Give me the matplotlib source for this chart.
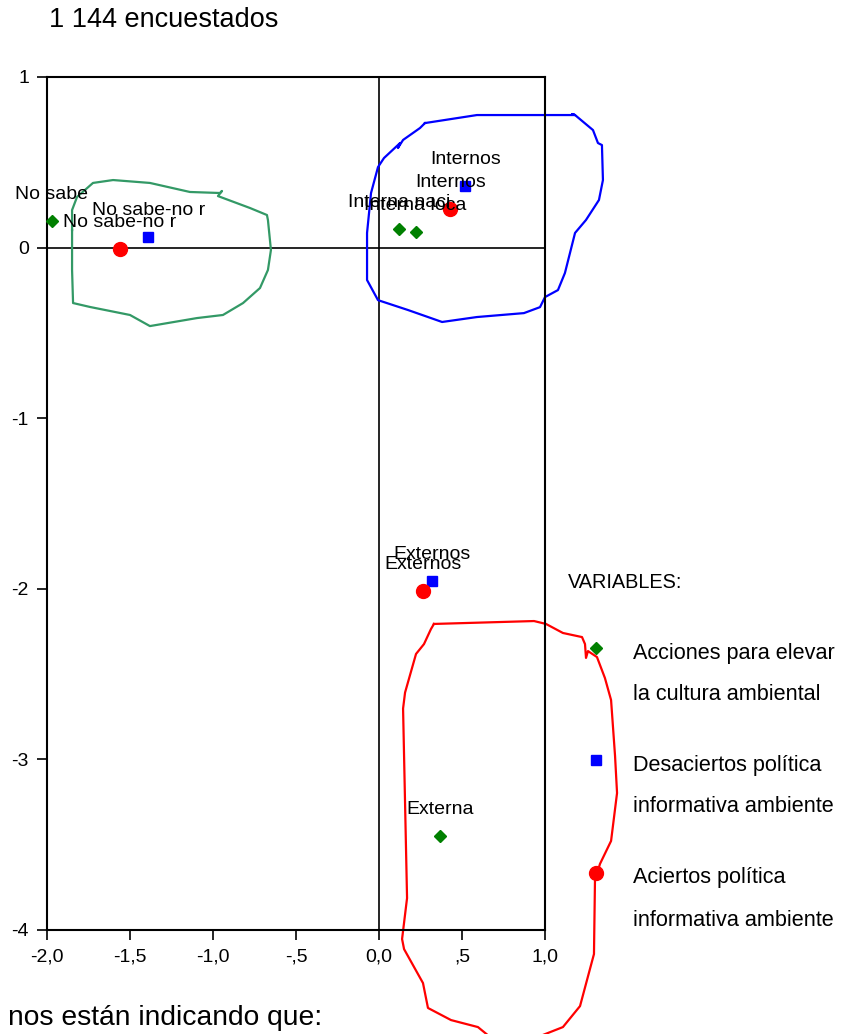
#! /usr/bin/env python3

# Correspondence map: three variables with hand drawn groups

import matplotlib
matplotlib.use("Agg")
import matplotlib.pyplot as plt

plt.rcParams['font.family'] = ['Liberation Sans', 'DejaVu Sans']
plt.rcParams['axes.unicode_minus'] = False

# Acciones para elevar la cultura ambiental (green diamonds)
acciones_labels = ["No sabe", "Interna naci", "Interna loca", "Externa"]
acciones_x = [-1.97, 0.12, 0.22, 0.37]
acciones_y = [0.155, 0.11, 0.09, -3.45]

# Desaciertos politica informativa ambiente (blue squares)
desaciertos_labels = ["No sabe-no r", "Internos", "Externos"]
desaciertos_x = [-1.39, 0.52, 0.32]
desaciertos_y = [0.06, 0.36, -1.955]

# Aciertos politica informativa ambiente (red circles)
aciertos_labels = ["No sabe-no r", "Internos", "Externos"]
aciertos_x = [-1.56, 0.43, 0.265]
aciertos_y = [-0.01, 0.225, -2.015]

x_ticks = [-2.0, -1.5, -1.0, -0.5, 0.0, 0.5, 1.0]
x_tick_labels = ["-2,0", "-1,5", "-1,0", "-,5", "0,0", ",5", "1,0"]
y_ticks = [-4, -3, -2, -1, 0, 1]

legend_texts = [("Acciones para elevar", "la cultura ambiental"),
                ("Desaciertos política", "informativa ambiente"),
                ("Aciertos política", "informativa ambiente")]

# hand drawn loops around the groups (data coordinates)
green_loop_x = [-1.849, -1.849, -1.819, -1.723, -1.602, -1.380, -1.139, -0.958, -0.946, -0.970,
                -0.777, -0.675, -0.669, -0.651, -0.669, -0.717, -0.819, -0.940, -1.096, -1.380,
                -1.500, -1.741, -1.843, -1.849, -1.849]
green_loop_y = [0.103, 0.220, 0.297, 0.379, 0.396, 0.379, 0.326, 0.320, 0.332, 0.302,
                0.232, 0.191, 0.161, -0.014, -0.131, -0.237, -0.325, -0.395, -0.413, -0.460,
                -0.395, -0.348, -0.325, -0.131, 0.103]

blue_loop_x = [0.277, 0.590, 1.181, 1.165, 1.181, 1.289, 1.319, 1.343, 1.349, 1.325, 1.247, 1.181,
               1.120, 1.078, 1.000, 0.970, 0.873, 0.590, 0.380, 0.175, -0.006, -0.072,
               -0.072, -0.048, -0.006, 0.030, 0.127, 0.114, 0.145, 0.247, 0.277]
blue_loop_y = [0.730, 0.777, 0.777, 0.783, 0.777, 0.689, 0.613, 0.601, 0.396, 0.279, 0.162, 0.086,
               -0.149, -0.249, -0.290, -0.349, -0.384, -0.407, -0.436, -0.366, -0.308, -0.190,
               0.086, 0.320, 0.472, 0.525, 0.613, 0.584, 0.631, 0.701, 0.730]

red_loop_x = [0.331, 0.934, 1.006, 1.108, 1.223, 1.241, 1.247, 1.259, 1.313, 1.361, 1.398,
              1.422, 1.434, 1.398, 1.331, 1.301, 1.295, 1.211, 1.108, 0.970, 0.699, 0.596,
              0.434, 0.295, 0.265, 0.151, 0.139, 0.169, 0.145, 0.157, 0.223, 0.271, 0.313, 0.331]
red_loop_y = [-2.206, -2.189, -2.206, -2.259, -2.283, -2.324, -2.405, -2.365, -2.400, -2.523,
              -2.652, -2.980, -3.197, -3.478, -3.613, -3.713, -4.141, -4.446, -4.569, -4.622,
              -4.651, -4.569, -4.528, -4.457, -4.311, -4.112, -4.053, -3.813, -2.702, -2.608,
              -2.382, -2.324, -2.236, -2.206]

GREEN = '#008000'
BLUE = '#0000ff'
RED = '#ff0000'


def label_points(ax, xs, ys, labels):
    for x, y, lab in zip(xs, ys, labels):
        ax.annotate(lab, (x, y), xytext=(0, 19), textcoords='offset points',
                    ha='center', va='center', fontsize=14, color='black')


def main():
    fig = plt.figure(figsize=(8.45, 10.34), dpi=100)
    ax = fig.add_axes([47 / 845, 1 - 930 / 1034, 498 / 845, 853 / 1034])

    ax.axhline(0, color='black', lw=1.2, zorder=1)
    ax.axvline(0, color='black', lw=1.2, zorder=1)

    ax.plot(green_loop_x, green_loop_y, color='#339966', lw=1.6, clip_on=False, zorder=2,
            solid_joinstyle='round')
    ax.plot(blue_loop_x, blue_loop_y, color=BLUE, lw=1.6, clip_on=False, zorder=2,
            solid_joinstyle='round')
    ax.plot(red_loop_x, red_loop_y, color=RED, lw=1.6, clip_on=False, zorder=2,
            solid_joinstyle='round')

    ax.plot(acciones_x, acciones_y, 'D', color=GREEN, ms=6.5, ls='none', clip_on=False, zorder=3)
    ax.plot(desaciertos_x, desaciertos_y, 's', color=BLUE, ms=7, ls='none', clip_on=False, zorder=3)
    ax.plot(aciertos_x, aciertos_y, 'o', color=RED, ms=10, ls='none', clip_on=False, zorder=3)

    label_points(ax, acciones_x, acciones_y, acciones_labels)
    label_points(ax, desaciertos_x, desaciertos_y, desaciertos_labels)
    label_points(ax, aciertos_x, aciertos_y, aciertos_labels)

    ax.set_xlim(-2.0, 1.0)
    ax.set_ylim(-4, 1)
    ax.set_xticks(x_ticks)
    ax.set_xticklabels(x_tick_labels)
    ax.set_yticks(y_ticks)
    ax.tick_params(direction='out', length=7, width=1.2, labelsize=14, pad=6)
    for side in ax.spines.values():
        side.set_linewidth(1.5)

    # titles
    fig.text(49 / 845, 1 - 27 / 1034, "1 144 encuestados", fontsize=19.5, va='baseline')
    fig.text(8 / 845, 1 - 1025 / 1034, "nos están indicando que:", fontsize=20.3, va='baseline')

    # legend drawn by hand at the right
    fig.text(568 / 845, 1 - 582 / 1034, "VARIABLES:", fontsize=14.3, va='center')
    marker_specs = [('D', GREEN, 6.5, 648), ('s', BLUE, 7, 760), ('o', RED, 10, 873)]
    for (mk, col, ms, py), (line1, line2) in zip(marker_specs, legend_texts):
        fig.lines.append(plt.Line2D([596 / 845], [1 - py / 1034], marker=mk, color=col,
                                    ms=ms, ls='none', transform=fig.transFigure, zorder=3))
        fig.text(633 / 845, 1 - (py + 5) / 1034, line1, fontsize=15.6, va='center')
        fig.text(633 / 845, 1 - (py + 47) / 1034, line2, fontsize=15.6, va='center')

    plt.savefig("out.png", dpi=100)
    plt.close()


if __name__ == '__main__':
    main()
